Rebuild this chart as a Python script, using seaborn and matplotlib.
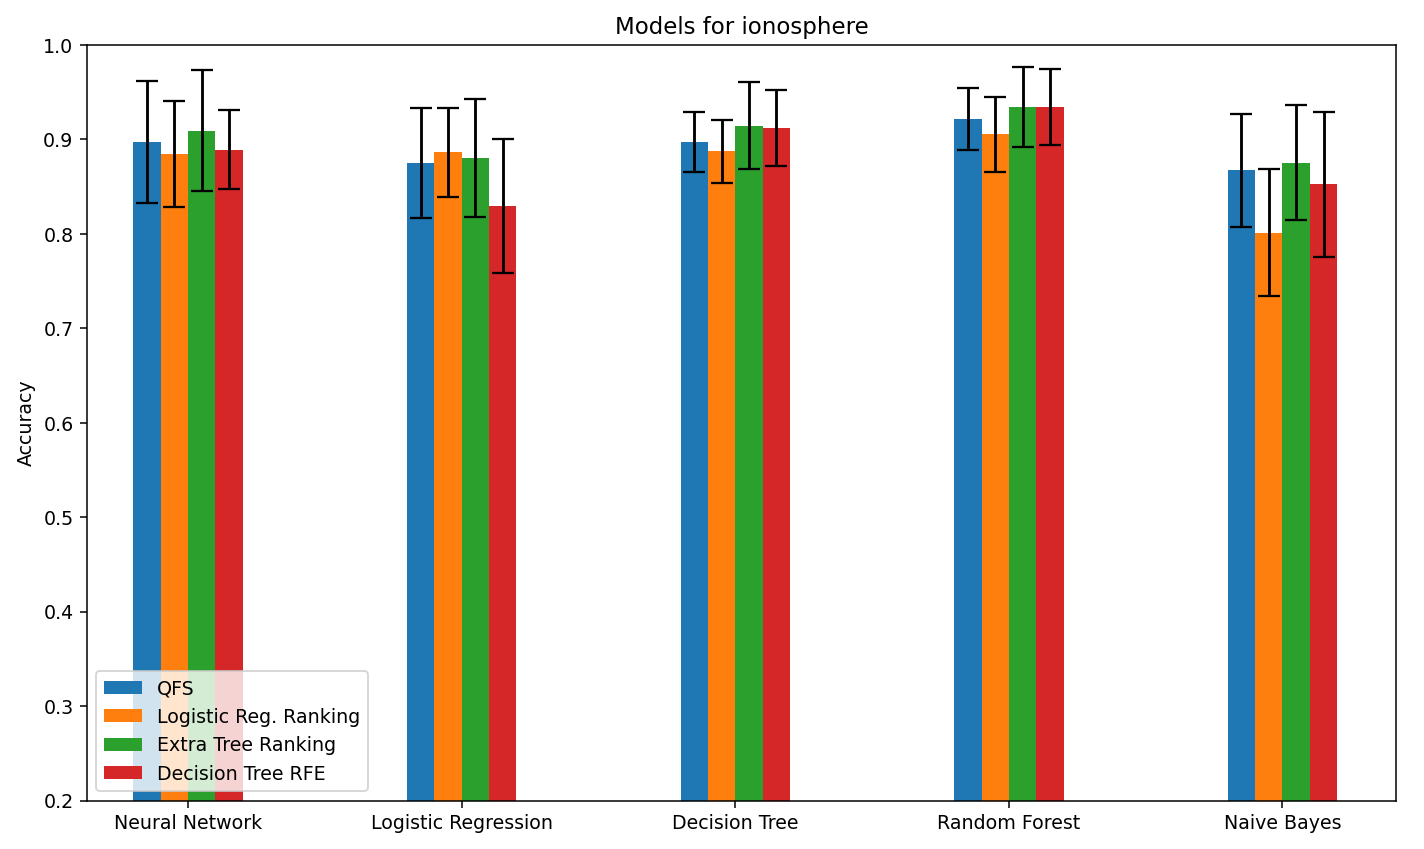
import pandas as pd
import matplotlib
matplotlib.use('Agg')
import matplotlib.pyplot as plt
import seaborn as sns

models = ['Neural Network', 'Logistic Regression', 'Decision Tree', 'Random Forest', 'Naive Bayes']
methods = ['QFS', 'Logistic Reg. Ranking', 'Extra Tree Ranking', 'Decision Tree RFE']

acc_qfs = [0.897, 0.875, 0.897, 0.921, 0.867]
acc_lr = [0.884, 0.886, 0.887, 0.905, 0.801]
acc_et = [0.909, 0.880, 0.914, 0.934, 0.875]
acc_dt = [0.889, 0.829, 0.912, 0.934, 0.852]

err_qfs = [0.065, 0.058, 0.032, 0.033, 0.060]
err_lr = [0.056, 0.047, 0.033, 0.040, 0.067]
err_et = [0.064, 0.062, 0.046, 0.042, 0.061]
err_dt = [0.042, 0.071, 0.040, 0.040, 0.077]

accs = [acc_qfs, acc_lr, acc_et, acc_dt]
errs = [err_qfs, err_lr, err_et, err_dt]

rows = []
for m, a in zip(methods, accs):
    for model, v in zip(models, a):
        rows.append({'Model': model, 'Method': m, 'Accuracy': v})
df = pd.DataFrame(rows)

fig, ax = plt.subplots(figsize=(10.4, 6.2), dpi=137)
sns.barplot(data=df, x='Model', y='Accuracy', hue='Method', order=models, hue_order=methods,
            palette='tab10', width=0.4, saturation=1, errorbar=None, ax=ax)

# error bars on top of each bar
for cont, e in zip(ax.containers, errs):
    for bar, er in zip(cont, e):
        ax.errorbar(bar.get_x() + bar.get_width() / 2, bar.get_height(), yerr=er,
                    color='black', capsize=6, linewidth=1.5, capthick=1.2)

ax.set_ylim(0.2, 1.0)
ax.set_xlim(-0.37, 4.416)
ax.set_xlabel('')
ax.set_ylabel('Accuracy')
ax.set_title('Models for ionosphere')
ax.legend(loc='lower left', title=None)
plt.subplots_adjust(left=0.061, right=0.980, top=0.947, bottom=0.057)
plt.savefig('out.png', dpi=137)
